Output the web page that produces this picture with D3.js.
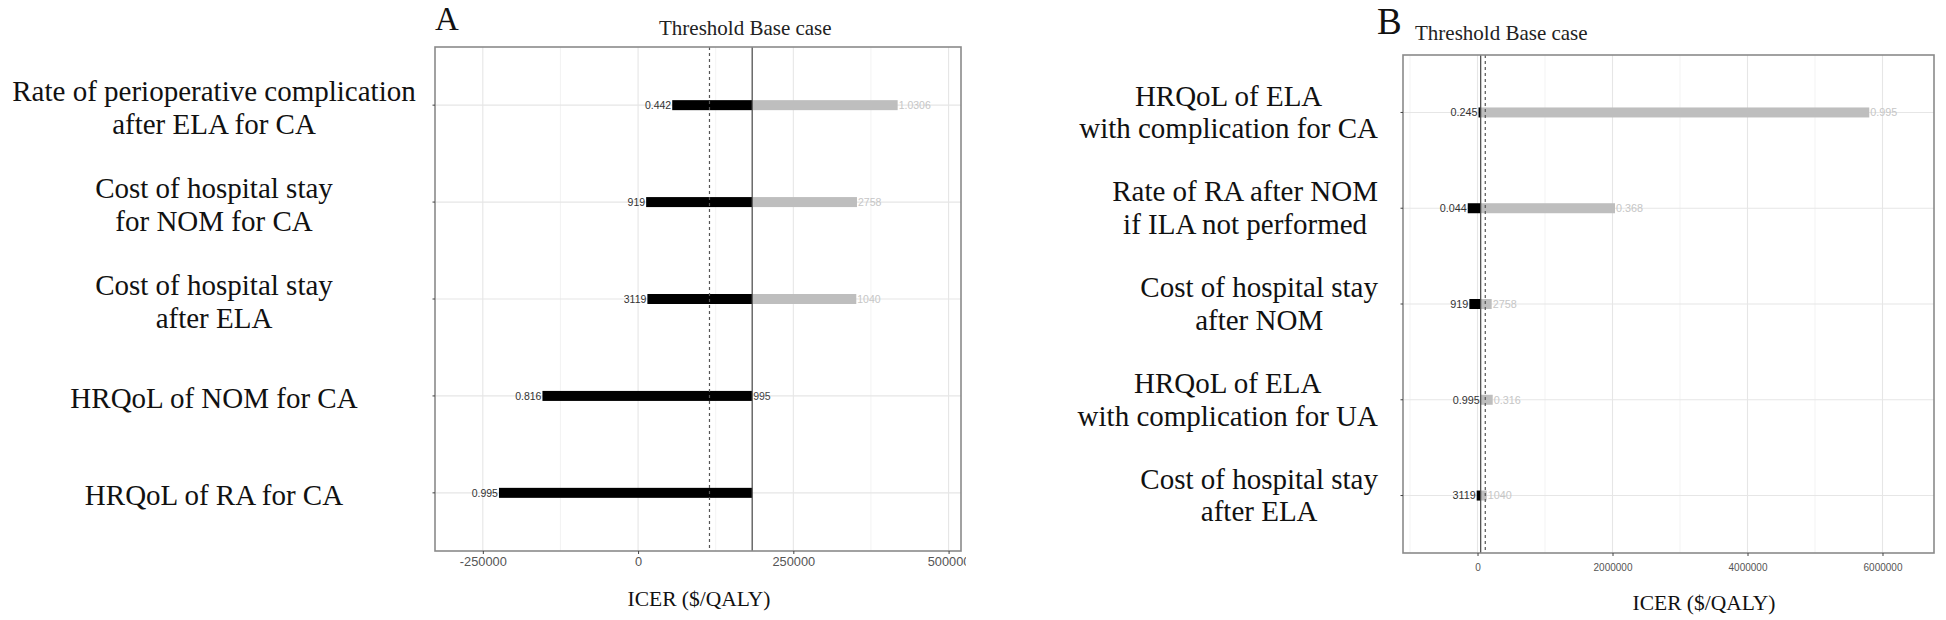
<!DOCTYPE html>
<html>
<head>
<meta charset="utf-8">
<script src="https://cdn.jsdelivr.net/npm/d3@7"></script>
<style>
body { margin: 0; background: #fff; }
svg text { font-family: "Liberation Serif", "Times New Roman", serif; }
svg .num { font-family: "Liberation Sans", Arial, sans-serif; }
</style>
</head>
<body>
<svg id="chart" width="1946" height="620"></svg>
<script>
// ---- panel A data ----
var paramsA = [
  ["Rate of perioperative complication", "after ELA for CA"],
  ["Cost of hospital stay", "for NOM for CA"],
  ["Cost of hospital stay", "after ELA"],
  ["HRQoL of NOM for CA"],
  ["HRQoL of RA for CA"]
];
var lowA = [55000, 13000, 15000, -154000, -224000];   // ICER at low value
var highA = [418000, 352500, 351400, 183750, 183750];  // ICER at high value
var lowTextA = ["0.442", "919", "3119", "0.816", "0.995"];
var highTextA = ["1.0306", "2758", "1040", "995", ""];
var baseA = 183750, thresholdA = 115000;
var ticksA = [-250000, 0, 250000, 500000];
var minorA = [-125000, 125000, 375000];

// ---- panel B data ----
var paramsB = [
  ["HRQoL of ELA", "with complication for CA"],
  ["Rate of RA after NOM", "if ILA not performed"],
  ["Cost of hospital stay", "after NOM"],
  ["HRQoL of ELA", "with complication for UA"],
  ["Cost of hospital stay", "after ELA"]
];
var lowB = [15000, -145000, -121000, 47000, -12000];
var highB = [5804000, 2037000, 210000, 225000, 136000];
var lowTextB = ["0.245", "0.044", "919", "0.995", "3119"];
var highTextB = ["0.995", "0.368", "2758", "0.316", "1040"];
var baseB = 47000, thresholdB = 115000;
var ticksB = [0, 2000000, 4000000, 6000000];
var minorB = [-1000000, 1000000, 3000000, 5000000];

var svg = d3.select("#chart");

function drawPanel(p) {
  var g = svg.append("g");
  if (p.clipX) {
    svg.append("defs").append("clipPath").attr("id", "clip" + p.tag)
      .append("rect").attr("x", 0).attr("y", 0).attr("width", p.clipX).attr("height", 620);
    g.attr("clip-path", "url(#clip" + p.tag + ")");
  }
  var x = d3.scaleLinear().domain(p.xDomain).range(p.xRange);
  var y = d3.scalePoint().domain(d3.range(p.params.length)).range(p.yRange).padding(0.6);
  var top = p.yRange[0], bottom = p.yRange[1];

  // grid
  g.selectAll(".minor").data(p.minor).enter().append("line")
    .attr("x1", x).attr("x2", x).attr("y1", top).attr("y2", bottom)
    .attr("stroke", "#f0f0f0").attr("stroke-width", 0.8);
  g.selectAll(".major").data(p.ticks).enter().append("line")
    .attr("x1", x).attr("x2", x).attr("y1", top).attr("y2", bottom)
    .attr("stroke", "#e6e6e6").attr("stroke-width", 1.1);
  g.selectAll(".hgrid").data(d3.range(p.params.length)).enter().append("line")
    .attr("x1", p.xRange[0]).attr("x2", p.xRange[1])
    .attr("y1", y).attr("y2", y)
    .attr("stroke", "#e6e6e6").attr("stroke-width", 1.1);

  // bars
  var bh = 10;
  g.selectAll(".lowbar").data(p.low).enter().append("rect")
    .attr("x", function(d) { return Math.min(x(d), x(p.base)); })
    .attr("width", function(d) { return Math.abs(x(p.base) - x(d)); })
    .attr("y", function(d, i) { return y(i) - bh / 2; })
    .attr("height", bh).attr("fill", "#000");
  g.selectAll(".highbar").data(p.high).enter().append("rect")
    .attr("x", function(d) { return Math.min(x(d), x(p.base)); })
    .attr("width", function(d) { return Math.abs(x(d) - x(p.base)); })
    .attr("y", function(d, i) { return y(i) - bh / 2; })
    .attr("height", bh).attr("fill", "#bebebe");

  // threshold and base case lines
  g.append("line").attr("x1", x(p.threshold)).attr("x2", x(p.threshold))
    .attr("y1", top).attr("y2", bottom)
    .attr("stroke", "#555").attr("stroke-width", 1.2).attr("stroke-dasharray", "3,3");
  g.append("line").attr("x1", x(p.base)).attr("x2", x(p.base))
    .attr("y1", top).attr("y2", bottom)
    .attr("stroke", "#444").attr("stroke-width", 1.2);

  // bar value labels
  g.selectAll(".lowtxt").data(p.lowText).enter().append("text")
    .attr("class", "num")
    .attr("x", function(d, i) { return x(p.low[i]) - 1; })
    .attr("y", function(d, i) { return y(i) + 3.8; })
    .attr("text-anchor", "end").attr("font-size", p.valFont)
    .attr("fill", "#333").text(function(d) { return d; });
  g.selectAll(".hightxt").data(p.highText).enter().append("text")
    .attr("class", "num")
    .attr("x", function(d, i) { return x(p.high[i]) + 1; })
    .attr("y", function(d, i) { return y(i) + 3.8; })
    .attr("text-anchor", "start").attr("font-size", p.valFont)
    .attr("fill", function(d, i) { return p.high[i] <= p.base ? "#444" : "#c6c6c6"; })
    .text(function(d) { return d; });

  // panel border
  g.append("rect").attr("x", p.xRange[0]).attr("y", top)
    .attr("width", p.xRange[1] - p.xRange[0]).attr("height", bottom - top)
    .attr("fill", "none").attr("stroke", "#8a8a8a").attr("stroke-width", 1.6);

  // x axis
  var ax = g.append("g").attr("transform", "translate(0," + bottom + ")")
    .call(d3.axisBottom(x).tickValues(p.ticks).tickSize(3).tickPadding(p.tickPad)
      .tickFormat(function(d) { return String(d); }));
  ax.select(".domain").remove();
  ax.selectAll("line").attr("stroke", "#444");
  ax.selectAll("text").attr("class", "num").attr("font-size", p.tickFont)
    .attr("fill", "#555").attr("font-family", null);

  // y ticks
  g.selectAll(".ytick").data(d3.range(p.params.length)).enter().append("line")
    .attr("x1", p.xRange[0] - 2.5).attr("x2", p.xRange[0])
    .attr("y1", y).attr("y2", y).attr("stroke", "#444").attr("stroke-width", 1);

  // parameter labels (multi-line)
  p.params.forEach(function(lines, i) {
    var block = svg.append("g");
    var n = lines.length;
    var texts = lines.map(function(s, j) {
      return block.append("text")
        .attr("y", y(i) + p.labelDy + (j - (n - 1) / 2) * p.lineH)
        .attr("font-size", 29).attr("fill", "#111")
        .attr("text-anchor", "middle").text(s);
    });
    var cx = p.labelX;
    if (p.labelAlign === "right") {
      var w = d3.max(texts, function(t) { return t.node().getComputedTextLength(); });
      cx = p.labelX - w / 2;
    }
    texts.forEach(function(t) { t.attr("x", cx); });
  });

  // titles
  svg.append("text").attr("x", p.letterX).attr("y", p.letterY)
    .attr("font-size", p.letterFont).attr("fill", "#111").text(p.tag);
  svg.append("text").attr("x", p.noteX).attr("y", p.noteY)
    .attr("font-size", 21).attr("fill", "#222").text("Threshold Base case");
  svg.append("text").attr("x", p.titleX).attr("y", p.titleY)
    .attr("text-anchor", "middle").attr("font-size", 21.5).attr("fill", "#111")
    .text("ICER ($/QALY)");
}

drawPanel({
  tag: "A", params: paramsA, low: lowA, high: highA, lowText: lowTextA, highText: highTextA,
  base: baseA, threshold: thresholdA, ticks: ticksA, minor: minorA,
  xDomain: [-327000, 520000], xRange: [435, 961], yRange: [47, 551],
  clipX: 966, valFont: 10.5, tickFont: 12.8, tickPad: 3,
  labelX: 214, labelAlign: "center", labelDy: 12, lineH: 33,
  letterX: 435, letterY: 30, letterFont: 33,
  noteX: 659, noteY: 35, titleX: 699, titleY: 606
});

drawPanel({
  tag: "B", params: paramsB, low: lowB, high: highB, lowText: lowTextB, highText: highTextB,
  base: baseB, threshold: thresholdB, ticks: ticksB, minor: minorB,
  xDomain: [-1104000, 6763000], xRange: [1403, 1934], yRange: [55, 553],
  clipX: null, valFont: 10.8, tickFont: 10, tickPad: 8,
  labelX: 1378, labelAlign: "right", labelDy: 9.5, lineH: 32.5,
  letterX: 1377, letterY: 34, letterFont: 37,
  noteX: 1415, noteY: 40, titleX: 1704, titleY: 610
});
</script>
</body>
</html>
